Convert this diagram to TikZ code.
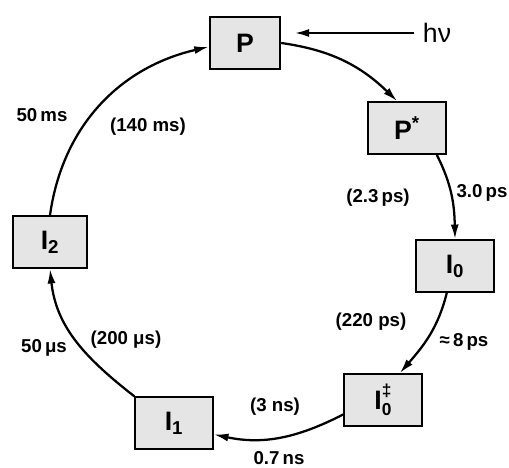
\documentclass[tikz,border=0pt]{standalone}
\usepackage{fontspec}
\setmainfont{Liberation Sans}
\usetikzlibrary{arrows.meta}

\tikzset{every picture/.style={line width=1.7pt}}
\tikzset{
  state/.style={draw, fill=black!10, minimum width=58pt, minimum height=38.5pt, inner sep=0pt,
    font=\fontsize{20}{24}\selectfont\bfseries},
  lbl/.style={inner sep=0.75pt, font=\fontsize{14}{16}\selectfont\bfseries},
  flow/.style={-{Latex[length=11pt,width=6pt]}},
}
% stacked super- and subscript on a state letter
\newcommand{\supsub}[2]{\rlap{\raisebox{0.5em}{\fontsize{13}{13}\selectfont #1}}\raisebox{-0.22em}{\fontsize{13}{13}\selectfont #2}}

\begin{document}
\begin{tikzpicture}[x=0.75pt,y=0.75pt,yscale=-1,xscale=1]
    \useasboundingbox (0,0) rectangle (509,467);

    % State Nodes
    \node (P) at (245,43) [state, minimum width=52.5pt] {P};
    \node (Ps) at (407,128) [state] {P\textsuperscript{*}};
    \node (I0) at (455,266) [state] {I\textsubscript{0}};
    \node (I0d) at (383,400) [state] {I\supsub{‡}{0}};
    \node (I1) at (174,423) [state] {I\textsubscript{1}};
    \node (I2) at (50,242) [state, minimum width=55.5pt] {I\textsubscript{2}};

    % Curved Arrows
    \draw [flow] (P.east) to [out=8,in=-136] (Ps.110);
    \draw [flow] (Ps.-42) to [out=63,in=-91] (I0.north);
    \draw [flow] (I0.-107) to [out=104,in=-49] (I0d.58);
    \draw [flow] (I0d.200) to [out=153,in=12] (I1.-16);
    \draw [flow] (I1.north west) to [out=218,in=84] (I2.south);
    \draw [flow] (I2.north) to [out=-82,in=167] (P.186);

    % Light
    \node (hv) at (437,33) [inner sep=1pt, font=\fontsize{20}{24}\selectfont] {hν};
    \draw [flow, shorten <=5pt, shorten >=10pt] (hv.west) -- (hv.west -| P.east);

    % Text Nodes
    \node (t50ms) at (42,115) [lbl] {50\,ms};
    \node (t140ms) at (148,127) [lbl] {(140 ms)};
    \node (t23ps) at (378,198) [lbl] {(2.3\,ps)};
    \node (t30ps) at (482,193) [lbl] {3.0\,ps};
    \node (t220ps) at (371,322) [lbl] {(220 ps)};
    \node (t8ps) at (464,342) [lbl] {≈\,8\,ps};
    \node (t3ns) at (275,407) [lbl] {(3 ns)};
    \node (t07ns) at (279,458) [lbl] {0.7\,ns};
    \node (t50us) at (44,348) [lbl] {50\,μs};
    \node (t200us) at (126,340) [lbl] {(200 μs)};

\end{tikzpicture}
\end{document}
